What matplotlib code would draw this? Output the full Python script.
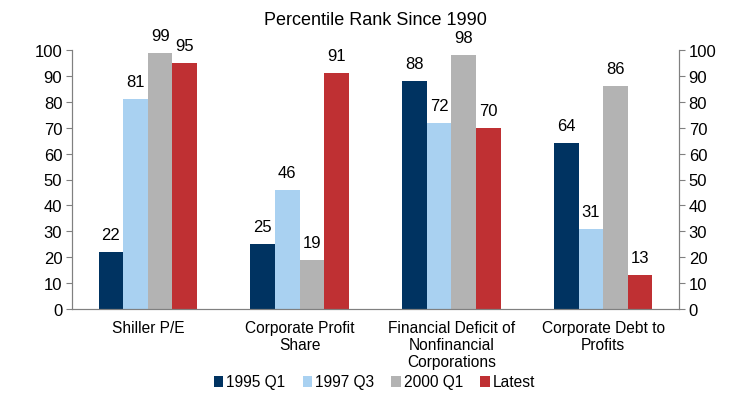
import numpy as np
import matplotlib.pyplot as plt

plt.rcParams["font.family"] = ["Liberation Sans", "DejaVu Sans"]

CATEGORIES = ["Shiller P/E", "Corporate Profit\nShare",
              "Financial Deficit of\nNonfinancial\nCorporations",
              "Corporate Debt to\nProfits"]
SERIES = ["1995 Q1", "1997 Q3", "2000 Q1", "Latest"]
VALUES = {
    "1995 Q1": [22, 25, 88, 64],
    "1997 Q3": [81, 46, 72, 31],
    "2000 Q1": [99, 19, 98, 86],
    "Latest": [95, 91, 70, 13],
}
COLORS = ["#003361", "#a9d1f1", "#b3b3b3", "#bf3033"]


def main() -> None:
    fig = plt.figure(figsize=(7.49, 4.14), dpi=100)
    ax = fig.add_axes([72 / 749, 1 - 310 / 414, 607 / 749, 259 / 414])

    x = np.arange(len(CATEGORIES))
    width = 0.162
    for i, (name, color) in enumerate(zip(SERIES, COLORS)):
        offs = (i - 1.5) * width
        bars = ax.bar(x + offs, VALUES[name], width, color=color, label=name)
        for b, v in zip(bars, VALUES[name]):
            ax.text(b.get_x() + b.get_width() / 2, v + 3.8, f"{v}",
                    ha="center", va="bottom", fontsize=12)

    ax.set_xlim(-0.5, len(CATEGORIES) - 0.5)
    ax.set_ylim(0, 100)
    ax.set_yticks(range(0, 101, 10))
    ax.set_xticks(x)
    ax.set_xticklabels(CATEGORIES, fontsize=11.2, linespacing=1.15)
    ax.tick_params(axis="x", length=0, pad=8)
    ax.tick_params(axis="y", labelsize=12, length=4, color="#808080", pad=3)

    ax2 = ax.twinx()
    ax2.set_ylim(0, 100)
    ax2.set_yticks(range(0, 101, 10))
    ax2.tick_params(axis="y", labelsize=12, length=4, color="#808080", pad=3)

    for a in (ax, ax2):
        a.spines["top"].set_visible(False)
        for s in ("left", "right", "bottom"):
            a.spines[s].set_color("#808080")

    ax.set_title("Percentile Rank Since 1990", fontsize=13, pad=19)

    fig.legend(loc="center", bbox_to_anchor=(0.5, 1 - 383 / 414), ncol=4,
               frameon=False, fontsize=11.2, handlelength=0.6, handleheight=0.7,
               handletextpad=0.2, columnspacing=1.1)

    fig.savefig("out.png", dpi=100)


if __name__ == "__main__":
    main()
